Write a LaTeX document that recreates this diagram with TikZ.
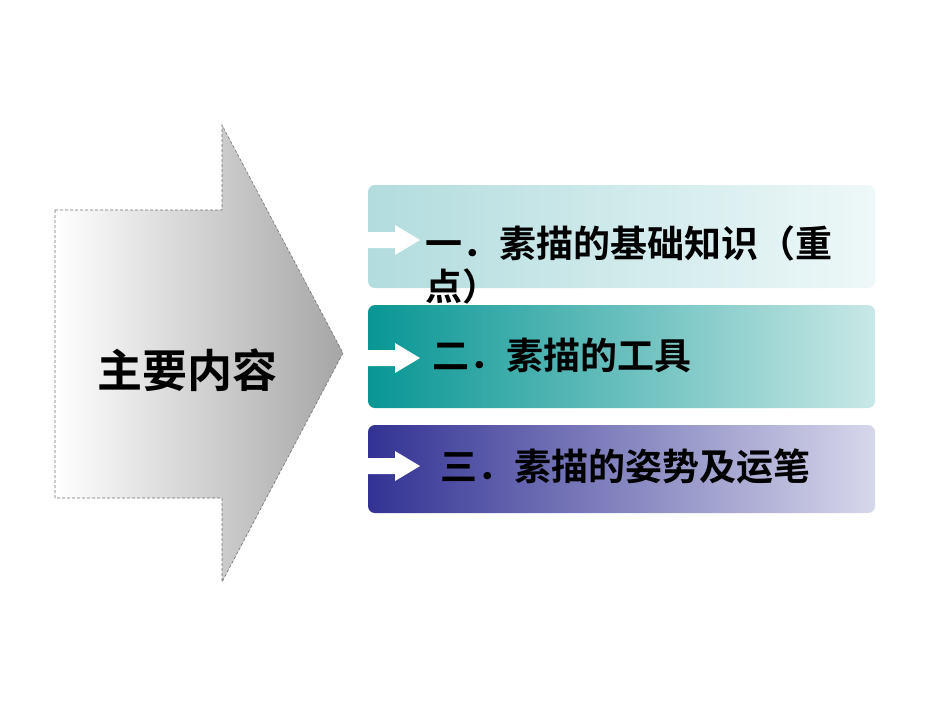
\documentclass[tikz,border=0pt]{standalone}
\usepackage{fontspec}
\newfontfamily\cjk{Noto Sans CJK SC}[BoldFont={Noto Sans CJK SC Bold}]
\begin{document}
\begin{tikzpicture}[x=1pt,y=-1pt,
  itembox/.style={rounded corners=7pt},
  warrow/.style={fill=white,draw=none},
  itemtext/.style={anchor=west,font=\cjk\bfseries\fontsize{37}{44}\selectfont,inner sep=0pt}]
\useasboundingbox (0,0) rectangle (950,713);
\fill[white] (0,0) rectangle (950,713);
\path[left color=white,middle color=black!6,right color=black!35,draw=black!55,densely dashed,line width=0.6pt]
  (55,210) -- (222,210) -- (222,125) -- (343,353) -- (222,582) -- (222,498) -- (55,498) -- cycle;
\node[font=\cjk\bfseries\fontsize{45}{52}\selectfont] (main) at (187,370) {主要内容};
\shade[itembox,left color={rgb,255:red,178;green,220;blue,222},right color={rgb,255:red,238;green,248;blue,248}] (368,185) rectangle (875,288);
\shade[itembox,left color={rgb,255:red,8;green,150;blue,148},right color={rgb,255:red,200;green,232;blue,230}] (368,305) rectangle (875,408);
\shade[itembox,left color={rgb,255:red,50;green,50;blue,148},right color={rgb,255:red,215;green,215;blue,235}] (368,425) rectangle (875,513);
\foreach \yy in {240,358,466}{
  \fill[warrow] (368,\yy-8) -- (395,\yy-8) -- (395,\yy-15) -- (420,\yy) -- (395,\yy+15) -- (395,\yy+8) -- (368,\yy+8) -- cycle;}
\node[itemtext] (t1) at (425,243) {一．素描的基础知识（重};
\node[itemtext] (t1b) at (425,286) {点）};
\node[itemtext] (t2) at (432,355) {二．素描的工具};
\node[itemtext] (t3) at (440,466) {三．素描的姿势及运笔};
\end{tikzpicture}
\end{document}
